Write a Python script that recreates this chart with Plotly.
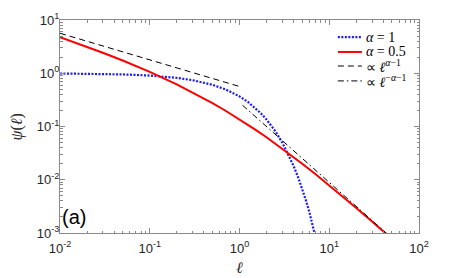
import plotly.graph_objects as go

# ---- data ----
ell_a05 = [0.01, 0.02, 0.03, 0.05, 0.07, 0.1, 0.2, 0.3, 0.5, 0.7, 1, 1.5, 2, 3, 5, 7, 10, 20, 30, 50, 70, 100]
psi_a05 = [4.745, 3.131, 2.426, 1.733, 1.373, 1.061, 0.6178, 0.4380, 0.2747, 0.1976, 0.1366, 0.0875,
           0.0627, 0.0384, 0.0200, 0.0128, 0.00783, 0.00294, 0.00164, 0.000775, 0.000472, 0.000278]

ell_a1 = [0.01, 0.02, 0.05, 0.1, 0.2, 0.3, 0.5, 0.7, 1, 1.25, 1.5, 1.75, 2, 2.5, 3, 3.5, 4, 4.5, 5, 5.5, 6, 6.5, 7, 7.5, 8]
psi_a1 = [0.990, 0.980, 0.951, 0.905, 0.819, 0.741, 0.607, 0.497, 0.368, 0.2865, 0.223, 0.1738, 0.135,
          0.0821, 0.0498, 0.0302, 0.0183, 0.0111, 0.00674, 0.00409, 0.00248, 0.0015, 0.000912, 0.000553, 0.000335]

ell_small = [0.01, 1.0]
psi_small = [5.642, 0.5642]

ell_large = [1.08, 100]
psi_large = [0.2513, 0.000282]

x_tickvals = [0.01, 0.1, 1, 10, 100]
x_ticktext = ["10<sup>-2</sup>", "10<sup>-1</sup>", "10<sup>0</sup>", "10<sup>1</sup>", "10<sup>2</sup>"]
y_tickvals = [0.001, 0.01, 0.1, 1, 10]
y_ticktext = ["10<sup>-3</sup>", "10<sup>-2</sup>", "10<sup>-1</sup>", "10<sup>0</sup>", "10<sup>1</sup>"]

legend_labels = ["<i>α</i> = 1", "<i>α</i> = 0.5", "∝ <i>ℓ</i><sup><i>α</i>−1</sup>", "∝ <i>ℓ</i><sup>−<i>α</i>−1</sup>"]

BLUE = "#1a1aff"
RED = "#ff0000"
styles = [dict(color=BLUE, width=2.2, dash="2px,1.5px"),
          dict(color=RED, width=2),
          dict(color="black", width=1, dash="6px,4px"),
          dict(color="black", width=1, dash="6px,3px,1.5px,3px")]

fig = go.Figure()
fig.add_trace(go.Scatter(x=ell_a1, y=psi_a1, mode="lines", line=styles[0], showlegend=False))
fig.add_trace(go.Scatter(x=ell_a05, y=psi_a05, mode="lines", line=styles[1], showlegend=False))
fig.add_trace(go.Scatter(x=ell_small, y=psi_small, mode="lines", line=styles[2], showlegend=False))
fig.add_trace(go.Scatter(x=ell_large, y=psi_large, mode="lines", line=styles[3], showlegend=False))

# manual legend (paper coordinates)
leg_y = [0.920, 0.850, 0.784, 0.714]
for lab, st, yy in zip(legend_labels, styles, leg_y):
    fig.add_shape(type="line", xref="paper", yref="paper", x0=0.774, x1=0.841, y0=yy, y1=yy,
                  line=st)
    fig.add_annotation(x=0.846, y=yy, xref="paper", yref="paper", xanchor="left", yanchor="middle",
                       text=lab, showarrow=False,
                       font=dict(family="Liberation Serif", size=14, color="black"))

axis_common = dict(type="log", showline=True, linecolor="#8a8a8a", linewidth=1, mirror="allticks",
                   ticks="inside", ticklen=5, tickcolor="#8a8a8a", showgrid=False, zeroline=False,
                   automargin=False,
                   tickfont=dict(family="Liberation Sans, Arial", size=13, color="#262626"),
                   minor=dict(ticks="inside", ticklen=2.5, tickcolor="#8a8a8a", dtick="D1", showgrid=False))

fig.update_xaxes(range=[-2, 2], tickvals=x_tickvals, ticktext=x_ticktext, ticklabelstandoff=3, **axis_common)
fig.update_yaxes(range=[-3, 1], tickvals=y_tickvals, ticktext=y_ticktext, ticklabelstandoff=-3, **axis_common)

# axis titles
fig.add_annotation(x=0.5, y=-0.164, xref="paper", yref="paper", xanchor="center", yanchor="middle",
                   text="<i>ℓ</i>", showarrow=False,
                   font=dict(family="Liberation Serif", size=16, color="#262626"))
fig.add_annotation(x=-0.12, y=0.5, xref="paper", yref="paper", xanchor="center", yanchor="middle",
                   text="<i>ψ</i>(<i>ℓ</i>)", showarrow=False, textangle=-90,
                   font=dict(family="Liberation Serif", size=16, color="#262626"))

fig.add_annotation(x=0.0, y=0.075, xref="paper", yref="paper", xanchor="left", yanchor="middle",
                   text="(a)", showarrow=False,
                   font=dict(family="Liberation Sans, Arial", size=20, color="black"))

fig.update_layout(width=463, height=278, margin=dict(l=60, r=44, t=20, b=45, autoexpand=False),
                  paper_bgcolor="white", plot_bgcolor="white", showlegend=False)

# remove the browser's default page margin so the figure sits at the window's corner
fig.write_html("out.html", config={"displayModeBar": False},
               post_script="document.body.style.margin='0px';")
